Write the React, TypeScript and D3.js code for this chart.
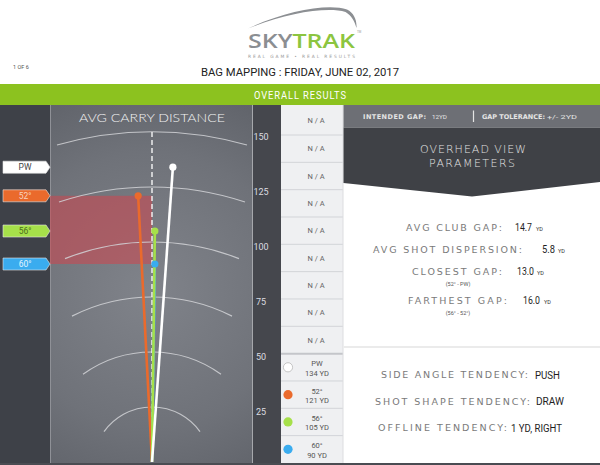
import React from "react";
import * as d3 from "d3";

// ---------- data ----------
const CLUBS = ["PW", "52°", "56°", "60°"];
const CARRY = [134, 121, 105, 90];
const OFFLINE = [9.5, -6.3, 1.3, 1.3]; // yards, + = right
const CLUB_COLORS = ["#ffffff", "#ea6a2c", "#a6e04a", "#3aacef"];
const TAG_TEXT = ["#444444", "#f8d2bf", "#4d6e1c", "#e4f4ff"];
const DIST_TICKS = [25, 50, 75, 100, 125, 150];
const EMPTY_SLOTS = 9;
const GAP_RANGE = [90, 121]; // shaded gap window (60° .. 52°)

const STAT_LABELS = ["AVG CLUB GAP:", "AVG SHOT DISPERSION:", "CLOSEST GAP:", "FARTHEST GAP:"];
const STAT_VALUES = ["14.7", "5.8", "13.0", "16.0"];
const STAT_NOTES = ["", "", "(52° - PW)", "(56° - 52°)"];
const TEND_LABELS = ["SIDE ANGLE TENDENCY:", "SHOT SHAPE TENDENCY:", "OFFLINE TENDENCY:"];
const TEND_VALUES = ["PUSH", "DRAW", "1 YD, RIGHT"];

// ---------- layout ----------
const W = 600, H = 465;
const RING_HALF = [48, 69, 80, 87, 93, 95];
const RING_K = 2.36;
const STAT_LAYOUT = [
  { lx: 406, lw: 96, y: 230.5, vx: 515, vw: 17, ux: 536 },
  { lx: 373, lw: 149, y: 252.5, vx: 542, vw: 13, ux: 558 },
  { lx: 412, lw: 90, y: 274.5, vx: 517, vw: 17, ux: 537 },
  { lx: 408, lw: 99, y: 303.5, vx: 523, vw: 17, ux: 544 },
];
const TEND_LAYOUT = [
  { lx: 381, lw: 147, y: 378, vx: 535, vw: 25 },
  { lx: 375, lw: 155, y: 404.5, vx: 536, vw: 28 },
  { lx: 378, lw: 129, y: 431, vx: 511, vw: 51 },
];

const NARROW = "'Liberation Sans Narrow', 'Roboto', sans-serif";
const WIDE = "'DejaVu Sans', 'Noto Sans', sans-serif";
const LIGHT = "'Lato', 'Roboto', sans-serif";

export default function App() {
  const y = d3.scaleLinear().domain([0, 150]).range([462, 132]);
  const xLat = d3.scaleLinear().domain([-10, 10]).range([130, 174]);
  const cx0 = xLat(0);

  const rows: number[] = [105];
  for (let i = 0; i < 13; i++) rows.push(135 + i * 27.33);

  const ringPath = (d: number, i: number) => {
    const top = y(d);
    const r = RING_K * d;
    const hw = RING_HALF[i];
    const drop = r - Math.sqrt(r * r - hw * hw);
    return `M${cx0 - hw},${top + drop} A${r},${r} 0 0 1 ${cx0 + hw},${top + drop}`;
  };

  const order = [3, 1, 2, 0];

  return (
    <div style={{ position: "absolute", left: 0, top: 0 }}>
      <svg width={W} height={H} style={{ display: "block" }}>
        <defs>
          <radialGradient id="bg" cx="150" cy="290" r="230" gradientUnits="userSpaceOnUse">
            <stop offset="0" stopColor="#80838a" />
            <stop offset="0.6" stopColor="#6f7279" />
            <stop offset="1" stopColor="#5d6067" />
          </radialGradient>
        </defs>
        <rect x={0} y={0} width={W} height={H} fill="#ffffff" />

        {/* header */}
        <path
          d="M248,28.5 C285,11 328,3 347,9.5 C354,13 357,20 356.5,28 C354.5,21 351.5,15.5 345.5,12 C327,6.5 286,13 248,28.5 Z"
          fill="#8c8f93"
        />
        <text x={248} y={47.5} fontFamily="'Open Sans', sans-serif" fontWeight={600} fontSize={20}
          textLength={107} lengthAdjust="spacingAndGlyphs">
          <tspan fill="#8b8e92">SKY</tspan>
          <tspan fill="#8cc540">TRAK</tspan>
        </text>
        <text x={357} y={33} fontSize={3} fill="#999" fontFamily="sans-serif">TM</text>
        <text x={248} y={57.5} fontSize={4.4} fill="#9a9a9a" fontFamily={WIDE} textLength={107}
          lengthAdjust="spacing">REAL GAME  •  REAL RESULTS</text>
        <text x={13} y={69} fontSize={5.5} fill="#555" fontFamily={NARROW}>1 OF 6</text>
        <text x={201} y={76} fontSize={11.5} fill="#222" fontFamily={NARROW} textLength={198}
          lengthAdjust="spacingAndGlyphs">BAG MAPPING : FRIDAY, JUNE 02, 2017</text>

        <rect x={0} y={84} width={W} height={21} fill="#8cc21f" />
        <text x={254} y={98.5} fontSize={10} fill="#ffffff" fontFamily={NARROW} textLength={93}
          lengthAdjust="spacingAndGlyphs" letterSpacing={1}>OVERALL RESULTS</text>

        {/* left panels */}
        <rect x={0} y={105} width={50} height={358} fill="#3e4148" />
        <rect x={50} y={105} width={202} height={358} fill="url(#bg)" />
        <line x1={50.5} x2={50.5} y1={105} y2={463} stroke="#8f9197" strokeWidth={1} />
        <rect x={252} y={105} width={29} height={358} fill="#45474d" />
        <line x1={252.5} x2={252.5} y1={105} y2={463} stroke="#a6a8ac" strokeWidth={1} />

        {/* gap window */}
        <rect x={50} y={y(GAP_RANGE[1])} width={cx0 - 50} height={y(GAP_RANGE[0]) - y(GAP_RANGE[1])}
          fill="#d0454f" opacity={0.55} />

        {/* rings */}
        {DIST_TICKS.map((d, i) => (
          <path key={d} d={ringPath(d, i)} fill="none" stroke="#d2d4d7" strokeWidth={1.2} opacity={0.85} />
        ))}
        {DIST_TICKS.map((d) => (
          <text key={d} x={261} y={y(d) + 7.5} fontSize={9} fill="#dcdde0" fontFamily={NARROW}
            textAnchor="middle">{d}</text>
        ))}

        <text x={79} y={121.5} fontSize={12} fill="#f2f2f2" fontFamily={LIGHT} fontWeight={300}
          textLength={146} lengthAdjust="spacingAndGlyphs">AVG CARRY DISTANCE</text>

        <line x1={cx0} x2={cx0} y1={y(150)} y2={y(0)} stroke="#ffffff" strokeWidth={1.3}
          strokeDasharray="5,3" />

        {/* shots */}
        {order.map((i) => (
          <line key={"l" + i} x1={cx0} y1={y(0)} x2={xLat(OFFLINE[i])} y2={y(CARRY[i])}
            stroke={CLUB_COLORS[i]} strokeWidth={2.6} />
        ))}
        {order.map((i) => (
          <circle key={"c" + i} cx={xLat(OFFLINE[i])} cy={y(CARRY[i])} r={3.6} fill={CLUB_COLORS[i]} />
        ))}

        {/* tags */}
        {CLUBS.map((c, i) => {
          const cy = y(CARRY[i]);
          return (
            <g key={c}>
              <polygon
                points={`3,${cy - 6} 46,${cy - 6} 50,${cy} 46,${cy + 6} 3,${cy + 6}`}
                fill={CLUB_COLORS[i]} stroke="#e6e6e6" strokeWidth={0.6}
              />
              <text x={25} y={cy + 3} fontSize={8.5} fill={TAG_TEXT[i]} fontFamily={NARROW}
                textAnchor="middle">{c}</text>
            </g>
          );
        })}

        {/* middle column */}
        <rect x={281} y={105} width={62} height={358} fill="#eff0f2" />
        {rows.slice(1, 13).map((b, i) => (
          <line key={i} x1={281} x2={343} y1={b} y2={b} stroke={i === 8 ? "#c4c6ca" : "#d2d4d8"}
            strokeWidth={i === 8 ? 2 : 1} />
        ))}
        <line x1={343} x2={343} y1={105} y2={463} stroke="#dcdde0" />
        {d3.range(EMPTY_SLOTS).map((k) => (
          <text key={k} x={316} y={(rows[k] + rows[k + 1]) / 2 + 2.8} fontSize={7.5} fill="#666"
            fontFamily={NARROW} textAnchor="middle">N / A</text>
        ))}
        {CLUBS.map((c, i) => {
          const top = rows[EMPTY_SLOTS + i];
          const bot = rows[EMPTY_SLOTS + i + 1];
          const mid = (top + bot) / 2;
          return (
            <g key={c}>
              <circle cx={288} cy={mid} r={4.6} fill={CLUB_COLORS[i]}
                stroke={i === 0 ? "#b8b8b8" : "none"} strokeWidth={0.8} />
              <text x={317} y={mid - 1} fontSize={7.5} fill="#555" fontFamily={NARROW} textAnchor="middle">{c}</text>
              <text x={317} y={mid + 8.5} fontSize={7.5} fill="#555" fontFamily={NARROW} textAnchor="middle">
                {CARRY[i]} YD
              </text>
            </g>
          );
        })}

        {/* right panel */}
        <rect x={343.5} y={105} width={256.5} height={22.5} fill="#6d6f75" />
        <text x={363} y={118.5} fontSize={6.5} fill="#e4e4e4" fontFamily={WIDE} fontWeight={700}
          textLength={63} lengthAdjust="spacing">INTENDED GAP:</text>
        <text x={432} y={118.5} fontSize={6} fill="#e4e4e4" fontFamily={NARROW} textLength={15}
          lengthAdjust="spacingAndGlyphs">12YD</text>
        <line x1={473.5} x2={473.5} y1={110.5} y2={122} stroke="#e4e4e4" strokeWidth={1.2} />
        <text x={482} y={118.5} fontSize={6.5} fill="#e4e4e4" fontFamily={WIDE} fontWeight={700}
          textLength={63} lengthAdjust="spacing">GAP TOLERANCE:</text>
        <text x={547} y={118.5} fontSize={6} fill="#e4e4e4" fontFamily={NARROW} textLength={30}
          lengthAdjust="spacingAndGlyphs">+/- 2YD</text>

        <polygon points="343.5,127.5 600,127.5 600,182 472,196.5 343.5,183" fill="#3f4146" />
        <text x={420} y={153} fontSize={11} fill="#e2e2e2" fontFamily={WIDE} fontWeight={300}
          textLength={106} lengthAdjust="spacing">OVERHEAD VIEW</text>
        <text x={429} y={167} fontSize={11} fill="#e2e2e2" fontFamily={WIDE} fontWeight={300}
          textLength={86} lengthAdjust="spacing">PARAMETERS</text>

        {STAT_LABELS.map((lab, i) => {
          const L = STAT_LAYOUT[i];
          return (
            <g key={lab}>
              <text x={L.lx} y={L.y} fontSize={9.5} fill="#7a7a7a" fontFamily={WIDE}
                textLength={L.lw} lengthAdjust="spacing">{lab}</text>
              <text x={L.vx} y={L.y + 0.5} fontSize={10.5} fill="#1e1e1e" fontFamily={NARROW}
                textLength={L.vw} lengthAdjust="spacingAndGlyphs">{STAT_VALUES[i]}</text>
              <text x={L.ux} y={L.y + 0.5} fontSize={5.5} fill="#333" fontFamily={NARROW}>YD</text>
              {STAT_NOTES[i] && (
                <text x={458} y={L.y + 11.5} fontSize={5.5} fill="#555" fontFamily={NARROW}
                  textAnchor="middle">{STAT_NOTES[i]}</text>
              )}
            </g>
          );
        })}

        <rect x={343.5} y={346} width={256.5} height={2} fill="#ebebeb" />

        {TEND_LABELS.map((lab, i) => {
          const L = TEND_LAYOUT[i];
          return (
            <g key={lab}>
              <text x={L.lx} y={L.y} fontSize={9.5} fill="#7a7a7a" fontFamily={WIDE}
                textLength={L.lw} lengthAdjust="spacing">{lab}</text>
              <text x={L.vx} y={L.y + 0.5} fontSize={10.5} fill="#1e1e1e" fontFamily={NARROW}
                textLength={L.vw} lengthAdjust="spacingAndGlyphs">{TEND_VALUES[i]}</text>
            </g>
          );
        })}

        <rect x={0} y={463} width={W} height={2} fill="#4a4c52" />
      </svg>
    </div>
  );
}
